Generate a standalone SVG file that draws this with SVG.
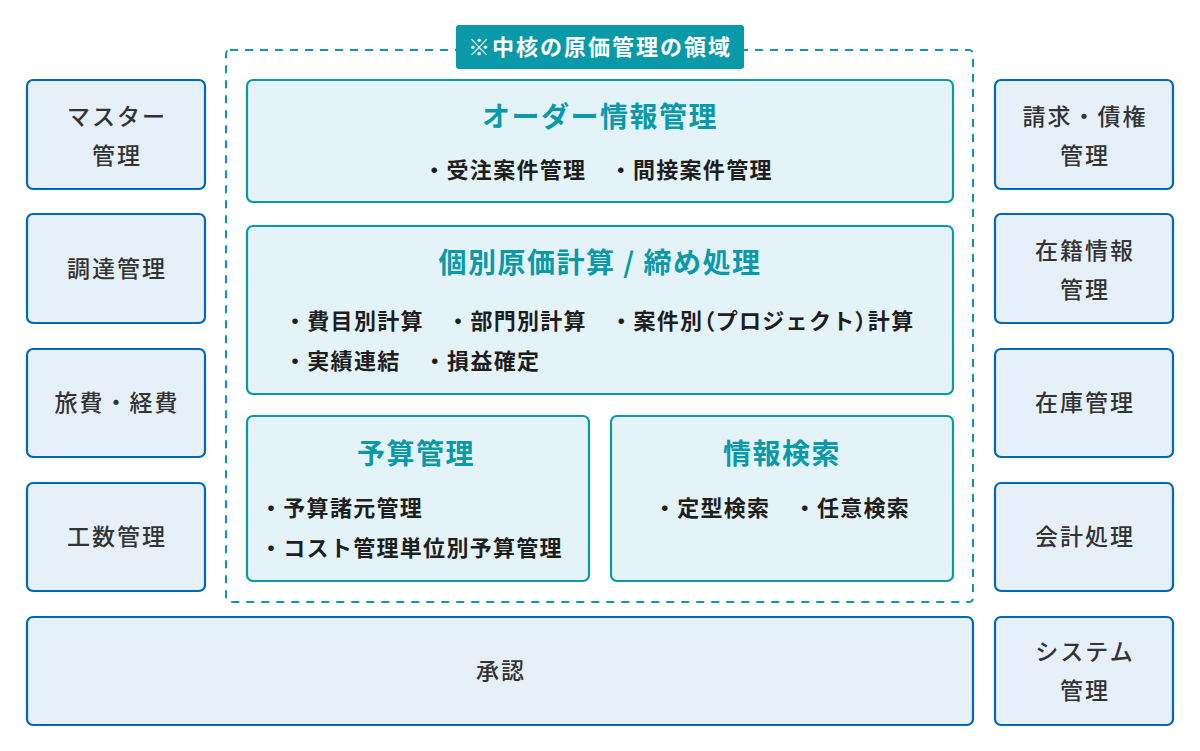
<svg xmlns="http://www.w3.org/2000/svg" width="1200" height="751" viewBox="0 0 1200 751">
<style>
.side rect{fill:#e6f0f9;stroke:#0068b7;stroke-width:2.2}
.side text{font-family:"Noto Sans CJK JP","Noto Sans",sans-serif;font-size:23px;font-weight:500;fill:#333;text-anchor:middle;letter-spacing:2px}
.core rect{fill:#e3f3f7;stroke:#0a99a8;stroke-width:2.2}
.ttl{font-family:"Noto Sans CJK JP","Noto Sans",sans-serif;font-size:28px;font-weight:700;fill:#0a99a8;text-anchor:middle;letter-spacing:1.5px}
.itm{font-family:"Noto Sans CJK JP","Noto Sans",sans-serif;font-size:22px;font-weight:700;fill:#1e1e1e;letter-spacing:1.3px}
.p{font-feature-settings:"palt"}
</style>
<rect width="1200" height="751" fill="#fff"/>
<g id="core-area">
<rect x="226" y="50" width="747" height="552" rx="4" fill="none" stroke="#0a99a8" stroke-width="2" stroke-dasharray="8,7"/>
<rect x="456" y="25" width="288" height="44" rx="3" fill="#0a99a8"/>
<text x="600" y="55" font-family="'Noto Sans CJK JP','Noto Sans',sans-serif" font-size="22" font-weight="700" fill="#fff" text-anchor="middle" letter-spacing="2">※中核の原価管理の領域</text>
</g>
<g id="order" class="core">
<rect x="247" y="80" width="706" height="122" rx="6"/>
<text class="ttl" x="600" y="127">オーダー情報管理</text>
<text class="itm" x="598" y="178" text-anchor="middle">・受注案件管理　・間接案件管理</text>
</g>
<g id="cost" class="core">
<rect x="247" y="226" width="706" height="168" rx="6"/>
<text class="ttl" x="600" y="273">個別原価計算 / 締め処理</text>
<text class="itm" x="284" y="329">・費目別計算　・部門別計算　・案件別<tspan class="p">（</tspan>プロジェクト<tspan class="p">）</tspan>計算</text>
<text class="itm" x="284" y="369">・実績連結　・損益確定</text>
</g>
<g id="budget" class="core">
<rect x="247" y="416" width="342" height="165" rx="6"/>
<text class="ttl" x="416" y="464">予算管理</text>
<text class="itm" x="260" y="516">・予算諸元管理</text>
<text class="itm" x="260" y="556">・コスト管理単位別予算管理</text>
</g>
<g id="search" class="core">
<rect x="611" y="416" width="342" height="165" rx="6"/>
<text class="ttl" x="782" y="464">情報検索</text>
<text class="itm" x="782" y="516" text-anchor="middle">・定型検索　・任意検索</text>
</g>
<g id="master" class="side"><rect x="27" y="80" width="178" height="109" rx="6"/><text x="117" y="125">マスター</text><text x="117" y="164">管理</text></g>
<g id="procure" class="side"><rect x="27" y="214" width="178" height="109" rx="6"/><text x="117" y="277">調達管理</text></g>
<g id="travel" class="side"><rect x="27" y="349" width="178" height="108" rx="6"/><text x="117" y="411">旅費・経費</text></g>
<g id="manhour" class="side"><rect x="27" y="483" width="178" height="108" rx="6"/><text x="117" y="545">工数管理</text></g>
<g id="billing" class="side"><rect x="995" y="80" width="178" height="109" rx="6"/><text x="1085" y="125">請求・債権</text><text x="1085" y="164">管理</text></g>
<g id="staff" class="side"><rect x="995" y="214" width="178" height="109" rx="6"/><text x="1085" y="259">在籍情報</text><text x="1085" y="298">管理</text></g>
<g id="stock" class="side"><rect x="995" y="349" width="178" height="108" rx="6"/><text x="1085" y="411">在庫管理</text></g>
<g id="account" class="side"><rect x="995" y="483" width="178" height="108" rx="6"/><text x="1085" y="545">会計処理</text></g>
<g id="approval" class="side"><rect x="27" y="617" width="946" height="108" rx="6"/><text x="501" y="679">承認</text></g>
<g id="system" class="side"><rect x="995" y="617" width="178" height="108" rx="6"/><text x="1085" y="660">システム</text><text x="1085" y="699">管理</text></g>
<g id="connectors"/>
</svg>
